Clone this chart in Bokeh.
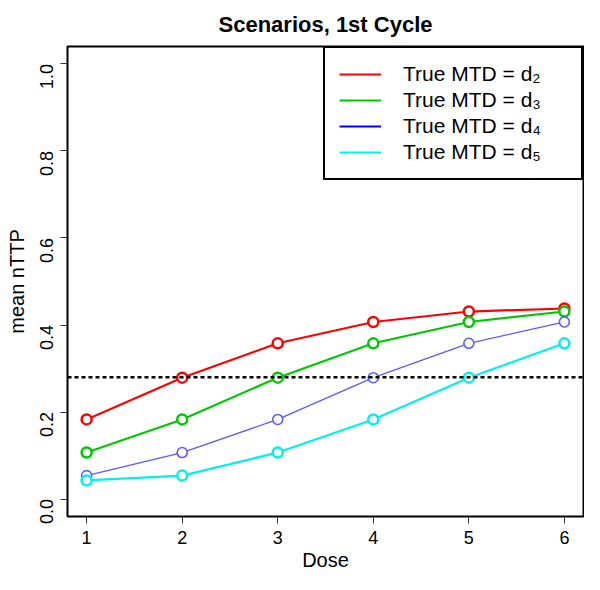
import math
from bokeh.plotting import figure
from bokeh.models import (Span, Legend, LegendItem, FixedTicker, ColumnDataSource, Range1d)
from bokeh.embed import file_html
from bokeh.resources import INLINE

doses = [1, 2, 3, 4, 5, 6]
series_labels = ["True MTD = d\u2082", "True MTD = d\u2083", "True MTD = d\u2084", "True MTD = d\u2085"]
mtd2 = [0.183, 0.279, 0.358, 0.407, 0.431, 0.438]
mtd3 = [0.107, 0.183, 0.279, 0.358, 0.407, 0.431]
mtd4 = [0.054, 0.107, 0.183, 0.279, 0.358, 0.407]
mtd5 = [0.043, 0.054, 0.107, 0.183, 0.279, 0.358]
target = 0.28
y_ticks = [0.0, 0.2, 0.4, 0.6, 0.8, 1.0]
title_text = "Scenarios, 1st Cycle"

FONT = "Liberation Sans"

p = figure(width=584, height=574, output_backend="svg", toolbar_location=None,
           x_range=Range1d(0.8, 6.2), y_range=Range1d(-0.04, 1.04),
           min_border_left=67, min_border_right=1, min_border_top=45, min_border_bottom=58)
p.title.text = title_text
p.title.text_font = FONT
p.title.text_font_size = "22px"
p.title.text_font_style = "bold"
p.title.text_color = "black"
p.title.align = "center"
p.title.vertical_align = "bottom"
p.title.standoff = 19

p.grid.visible = False
p.outline_line_color = "black"
p.outline_line_width = 2
p.background_fill_color = "white"
p.border_fill_color = "white"

for ax in (p.xaxis[0], p.yaxis[0]):
    ax.axis_line_color = None
    ax.major_tick_out = 7
    ax.major_tick_in = 0
    ax.minor_tick_line_color = None
    ax.major_tick_line_color = "#333333"
    ax.major_label_text_font = FONT
    ax.major_label_text_font_size = "18px"
    ax.major_label_text_color = "black"
    ax.axis_label_text_font = FONT
    ax.axis_label_text_font_size = "20px"
    ax.axis_label_text_font_style = "normal"
    ax.axis_label_text_color = "black"

p.xaxis.ticker = FixedTicker(ticks=doses)
p.xaxis.axis_label = "Dose"
p.xaxis.major_label_standoff = 7
p.xaxis.axis_label_standoff = 2

p.yaxis.ticker = FixedTicker(ticks=y_ticks)
p.yaxis.major_label_overrides = {t: f"{t:.1f}" for t in y_ticks}
p.yaxis.major_label_orientation = math.pi / 2
p.yaxis.axis_label = "mean nTTP"
p.yaxis.major_label_standoff = 14
p.yaxis.axis_label_standoff = 3

p.add_layout(Span(location=target, dimension="width", line_color="black",
                  line_width=2.5, line_dash="4 3"))

series = [mtd2, mtd3, mtd4, mtd5]
line_colors = ["#FF0000", "#00C800", "#5A5AFF", "#00F0F0"]
legend_colors = ["#FF0000", "#00C800", "#0000FF", "#00F0F0"]
line_widths = [2.2, 2.2, 1.3, 2.2]

line_renderers = []
for vals, c, w in zip(series, line_colors, line_widths):
    src = ColumnDataSource(dict(x=doses, y=vals))
    line_renderers.append(p.line("x", "y", source=src, line_color=c, line_width=w))
for vals, c, w in zip(series, line_colors, line_widths):
    src = ColumnDataSource(dict(x=doses, y=vals))
    p.scatter("x", "y", source=src, marker="circle", size=10, fill_color="white",
              line_color=c, line_width=w + 0.3)

# legend proxy for the blue series (drawn with no visible points)
nan_vals = [float("nan") for _ in doses]
blue_proxy = p.line(doses, nan_vals, line_color=legend_colors[2], line_width=2.2)

items = []
for i, lab in enumerate(series_labels):
    r = blue_proxy if i == 2 else line_renderers[i]
    items.append(LegendItem(label=lab, renderers=[r]))

legend = Legend(items=items, location="top_right")
legend.label_text_font = FONT
legend.label_text_font_size = "21px"
legend.label_text_color = "black"
legend.border_line_color = "black"
legend.border_line_alpha = 1.0
legend.border_line_width = 2
legend.glyph_width = 42
legend.glyph_height = 20
legend.label_standoff = 22
legend.label_width = 164
legend.spacing = 2
legend.padding = 14
legend.margin = 0
legend.label_height = 20
p.add_layout(legend)

open("out.html", "w").write(file_html(p, INLINE))
